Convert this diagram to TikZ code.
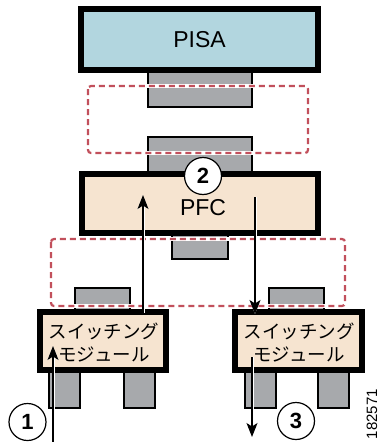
\documentclass[tikz,border=0pt]{standalone}
\usepackage{fontspec}
\setmainfont{Liberation Sans}
\newfontfamily\jpfont{Noto Sans CJK JP}
\usetikzlibrary{arrows.meta}
\definecolor{pisablue}{RGB}{178,214,223}
\definecolor{peach}{RGB}{246,228,208}
\definecolor{greyblk}{RGB}{167,169,172}
\definecolor{dashred}{RGB}{194,80,92}
\tikzset{
  mainbox/.style={draw=black, line width=6pt, inner sep=0pt, outer sep=0pt},
  greybox/.style={draw=black, fill=greyblk, line width=1.2pt, inner sep=0pt, outer sep=0pt},
  dashbox/.style={draw=dashred, line width=2.2pt, dash pattern=on 6pt off 4pt, rounded corners=3pt},
  flow/.style={draw=black, line width=1.1pt, -{Stealth[length=14pt,width=11pt,inset=3.5pt]},
    preaction={draw=white, line width=3pt}},
  num/.style={circle, draw=black, fill=white, line width=1.2pt, minimum size=37pt, inner sep=0pt,
    font=\fontsize{22}{22}\selectfont\bfseries}
}
\begin{document}
\begin{tikzpicture}[x=1pt,y=-1pt]
\useasboundingbox[fill=white] (0,0) rectangle (379,442);
% grey connector blocks
\node[greybox, minimum width=104pt, minimum height=37pt] (g1) at (200,88.5) {};
\node[greybox, minimum width=104pt, minimum height=37pt] (g2) at (200,155.5) {};
\node[greybox, minimum width=56pt, minimum height=26pt] (g3) at (200,246) {};
\node[greybox, minimum width=55pt, minimum height=24pt] (g4) at (102.5,300) {};
\node[greybox, minimum width=55pt, minimum height=24pt] (g5) at (296.5,300) {};
\node[greybox, minimum width=31pt, minimum height=38pt] (l1) at (64.5,389) {};
\node[greybox, minimum width=31pt, minimum height=38pt] (l2) at (139.5,389) {};
\node[greybox, minimum width=31pt, minimum height=38pt] (l3) at (260.5,389) {};
\node[greybox, minimum width=31pt, minimum height=38pt] (l4) at (333.5,389) {};
% dashed boxes
\draw[white, line width=3.6pt, rounded corners=3pt] (88,86) rectangle (308,153);
\draw[dashbox] (88,86) rectangle (308,153);
\draw[white, line width=3.6pt, rounded corners=3pt] (51,239) rectangle (345,306);
\draw[dashbox] (51,239) rectangle (345,306);
% main boxes
\node[mainbox, fill=pisablue, minimum width=237pt, minimum height=61pt,
  font=\fontsize{23}{23}\selectfont] (pisa) at (199.5,39.5) {PISA};
\node[mainbox, fill=peach, minimum width=236pt, minimum height=59pt] (pfc) at (200,203.5) {};
\node[font=\fontsize{23}{23}\selectfont] (pfct) at (203,208) {PFC};
\node[mainbox, fill=peach, minimum width=126pt, minimum height=58pt] (lm) at (103,341) {};
\node[mainbox, fill=peach, minimum width=127pt, minimum height=58pt] (rm) at (298.5,341) {};
\node[font=\jpfont\fontsize{18.5}{23}\selectfont, align=center] (lmt) at (104,343) {スイッチング\\モジュール};
\node[font=\jpfont\fontsize{18.5}{23}\selectfont, align=center] (rmt) at (299,343) {スイッチング\\モジュール};
% flow arrows
\coordinate (a1s) at (53,442);
\coordinate (a1e) at (53,346);
\coordinate (ups) at (143,313);
\coordinate (upe) at (143,195);
\coordinate (dns) at (255,197);
\coordinate (dne) at (255,314);
\coordinate (a3s) at (252,357);
\coordinate (a3e) at (252,437);
\draw[flow] (a1s) -- (a1e);
\draw[flow] (ups) -- (upe);
\draw[flow] (dns) -- (dne);
\draw[flow] (a3s) -- (a3e);
% step numbers
\node[num] (n2) at (203,176) {2};
\node[num] (n1) at (27.5,422) {1};
\node[num] (n3) at (296,421) {3};
\node[rotate=90, font=\fontsize{15}{15}\selectfont] (id) at (372,414) {182571};
\end{tikzpicture}
\end{document}
